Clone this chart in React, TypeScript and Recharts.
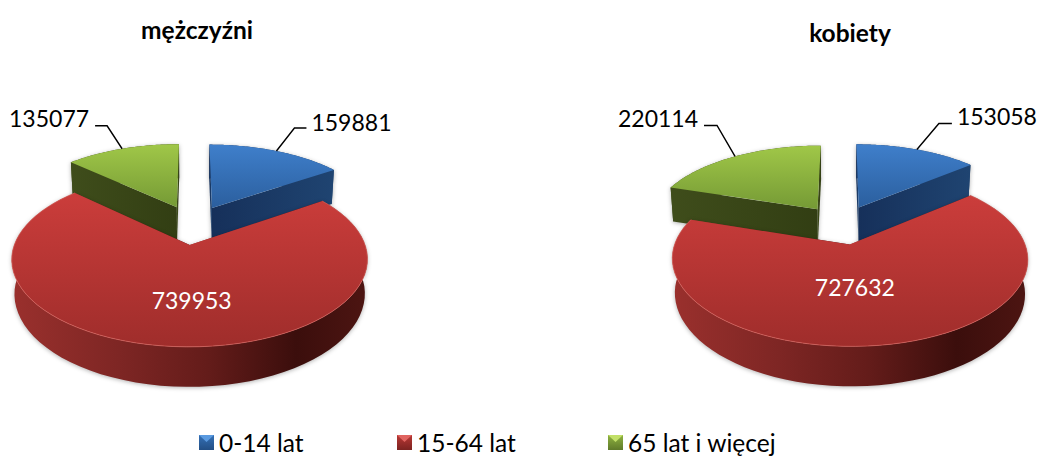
import { PieChart, Pie, Legend } from "recharts";

const WIDTH = 1038;
const HEIGHT = 456;
const FONT = "Lato, sans-serif";

const CATEGORIES = ["0-14 lat", "15-64 lat", "65 lat i więcej"];
const MEN = [159881, 739953, 135077];
const WOMEN = [153058, 727632, 220114];
const TITLES = ["mężczyźni", "kobiety"];

// look of the tilted disc
const TILT = 0.465;
const PERSPECTIVE = 0.16;
const EXPLODE = 0.25;
const DEPTH = 32;
const MIN_DEPTH = 34;
const BOTTOM_SCALE = 0.985;
const RADIUS = 168.4;
const CENTER_Y = 224.6;
const CENTER_X = [193, 841.5];

const TOP_FILL = ["url(#topBlue)", "url(#topRed)", "url(#topGreen)"];
const SIDE_FILL = ["url(#sideBlue)", "url(#sideRed)", "url(#sideGreen)"];
const RIM = ["none", "#d8635c", "none"];
const SWATCH = [
  ["#5a9ae0", "#3470b6", "#234f85"],
  ["#e06460", "#b93835", "#7c2321"],
  ["#c2e068", "#8fb340", "#5f7a2a"],
];
const LEGEND_X = [199, 397, 608];

// leader line and text placement for the outer labels, per pie
const LEADERS: Record<string, number[]>[] = [
  { "0-14 lat": [18, -23, 12, 5, -6], "65 lat i więcej": [-15, -23, -12, -6, -8] },
  { "0-14 lat": [22, -26, 13, 5, -8], "65 lat i więcej": [-18, -31, -13, -6, -7] },
];
const INNER_LABEL = [
  [2, 55],
  [5, 42],
];

const toRad = (d: number) => (d * Math.PI) / 180;

const project = (u: number, v: number, cx: number, cy: number, r: number) => {
  const s = 1 / (1 - PERSPECTIVE * v);
  return { x: cx + r * u * s, y: cy + r * TILT * v * s, s };
};

const midOf = (startAngle: number, endAngle: number) =>
  90 - (startAngle + endAngle) / 2;

const toPath = (pts: { x: number; y: number }[], close = true) =>
  "M" +
  pts.map((p) => `${p.x.toFixed(2)},${p.y.toFixed(2)}`).join("L") +
  (close ? "Z" : "");

const Slice3D = (props: any) => {
  const { cx, cy, outerRadius, startAngle, endAngle, name } = props;
  const idx = CATEGORIES.indexOf(name);
  const a0 = 90 - startAngle;
  const a1 = 90 - endAngle;
  const mid = toRad(midOf(startAngle, endAngle));
  const ou = EXPLODE * Math.sin(mid);
  const ov = -EXPLODE * Math.cos(mid);
  const apex = project(ou, ov, cx, cy, outerRadius);
  const steps = 72;
  const rim = [];
  for (let i = 0; i <= steps; i++) {
    const a = toRad(a0 + ((a1 - a0) * i) / steps);
    rim.push(project(ou + Math.sin(a), ov - Math.cos(a), cx, cy, outerRadius));
  }
  const down = (p: { x: number; y: number; s: number }) => ({
    x: cx + (p.x - cx) * BOTTOM_SCALE,
    y: p.y + Math.max(MIN_DEPTH, DEPTH * p.s),
    s: p.s,
  });
  const first = rim[0];
  const last = rim[rim.length - 1];
  return (
    <g>
      <g style={{ filter: "drop-shadow(0 1px 2px rgba(0,0,0,0.3))" }}>
        <path d={toPath([...rim, ...rim.map(down).reverse()])} fill={SIDE_FILL[idx]} />
        <path d={toPath([apex, first, down(first), down(apex)])} fill={SIDE_FILL[idx]} />
        <path d={toPath([apex, last, down(last), down(apex)])} fill={SIDE_FILL[idx]} />
      </g>
      <path d={toPath([apex, ...rim])} fill={TOP_FILL[idx]} />
      <path d={toPath(rim, false)} fill="none" stroke={RIM[idx]} strokeOpacity={0.7} />
    </g>
  );
};

const makeLabel = (pieIndex: number) => (props: any) => {
  const { cx, cy, outerRadius, startAngle, endAngle, name, value } = props;
  const mid = toRad(midOf(startAngle, endAngle));
  if (name === CATEGORIES[1]) {
    const [dx, dy] = INNER_LABEL[pieIndex];
    const apex = project(EXPLODE * Math.sin(mid), -EXPLODE * Math.cos(mid), cx, cy, outerRadius);
    return (
      <text
        x={apex.x + dx}
        y={apex.y + dy}
        textAnchor="middle"
        dominantBaseline="central"
        fill="#ffffff"
        fontFamily={FONT}
        fontSize={23}
      >
        {value}
      </text>
    );
  }
  const tip = project(
    (1 + EXPLODE) * Math.sin(mid),
    -(1 + EXPLODE) * Math.cos(mid),
    cx,
    cy,
    outerRadius,
  );
  const [ex, ey, run, gap, textDy] = LEADERS[pieIndex][name];
  const elbowX = tip.x + ex;
  const elbowY = tip.y + ey;
  const endX = elbowX + run;
  return (
    <g>
      <polyline
        points={`${tip.x},${tip.y} ${elbowX},${elbowY} ${endX},${elbowY}`}
        fill="none"
        stroke="#000000"
        strokeWidth={1.4}
      />
      <text
        x={endX + gap}
        y={elbowY + textDy}
        textAnchor={run > 0 ? "start" : "end"}
        dominantBaseline="central"
        fill="#000000"
        fontFamily={FONT}
        fontSize={23}
      >
        {value}
      </text>
    </g>
  );
};

// green first so the big red slice is painted last; angles stay as in the chart
const rowsFor = (values: number[]) =>
  [2, 0, 1].map((i) => ({ name: CATEGORIES[i], value: values[i] }));
const startFor = (values: number[]) =>
  90 + (values[2] / values.reduce((a, b) => a + b, 0)) * 360;

const LegendRow = () => (
  <div style={{ position: "relative", width: WIDTH, height: 28, fontFamily: FONT, fontSize: 24.5 }}>
    {CATEGORIES.map((c, i) => (
      <div
        key={c}
        style={{
          position: "absolute",
          left: LEGEND_X[i],
          top: 0,
          display: "flex",
          alignItems: "center",
          height: 28,
          color: "#000",
          whiteSpace: "nowrap",
        }}
      >
        <svg width={15} height={15} style={{ marginRight: 5 }}>
          <defs>
            <linearGradient id={`swatch${i}`} x1="0" y1="0" x2="0" y2="1">
              <stop offset={0} stopColor={SWATCH[i][1]} />
              <stop offset={1} stopColor={SWATCH[i][2]} />
            </linearGradient>
          </defs>
          <rect width={15} height={15} fill={`url(#swatch${i})`} />
          <polygon points="0,0 15,0 7.5,7" fill={SWATCH[i][0]} />
        </svg>
        {c}
      </div>
    ))}
  </div>
);

const grad = (id: string, x2: number, y2: number, stops: [number, string][]) => (
  <linearGradient id={id} x1="0" y1="0" x2={x2} y2={y2}>
    {stops.map(([o, c]) => (
      <stop key={o} offset={o} stopColor={c} />
    ))}
  </linearGradient>
);

export default function App() {
  return (
    <div style={{ position: "absolute", left: 0, top: 0, width: WIDTH, height: HEIGHT, background: "#fff" }}>
      <PieChart width={WIDTH} height={HEIGHT} margin={{ top: 0, right: 0, bottom: 0, left: 0 }}>
        <defs>
          {grad("topBlue", 0, 1, [[0, "#3f7fcb"], [1, "#2b5f9e"]])}
          {grad("topRed", 0, 1, [[0, "#cb3d3b"], [1, "#9f2d2b"]])}
          {grad("topGreen", 0, 1, [[0, "#a0c748"], [1, "#759a35"]])}
          {grad("sideBlue", 1, 0, [[0, "#16305a"], [1, "#1f4471"]])}
          {grad("sideRed", 1, 0, [[0, "#9a302d"], [0.3, "#7e2624"], [0.55, "#641c1a"], [0.8, "#3b0e0c"], [1, "#4d1512"]])}
          {grad("sideGreen", 1, 0, [[0, "#3f4d1b"], [1, "#323e13"]])}
        </defs>
        {[MEN, WOMEN].map((values, p) => (
          <Pie
            key={p}
            data={rowsFor(values)}
            dataKey="value"
            nameKey="name"
            cx={CENTER_X[p]}
            cy={CENTER_Y}
            outerRadius={RADIUS}
            startAngle={startFor(values)}
            endAngle={startFor(values) - 360}
            stroke="none"
            shape={Slice3D}
            label={makeLabel(p)}
            labelLine={false}
            isAnimationActive={false}
          />
        ))}
        <text x={197} y={29} textAnchor="middle" dominantBaseline="central" fontFamily={FONT} fontWeight={700} fontSize={24.5}>
          {TITLES[0]}
        </text>
        <text x={850} y={32} textAnchor="middle" dominantBaseline="central" fontFamily={FONT} fontWeight={700} fontSize={24.5}>
          {TITLES[1]}
        </text>
        <Legend
          content={() => <LegendRow />}
          wrapperStyle={{ position: "absolute", left: 0, top: 428, width: WIDTH }}
        />
      </PieChart>
    </div>
  );
}
